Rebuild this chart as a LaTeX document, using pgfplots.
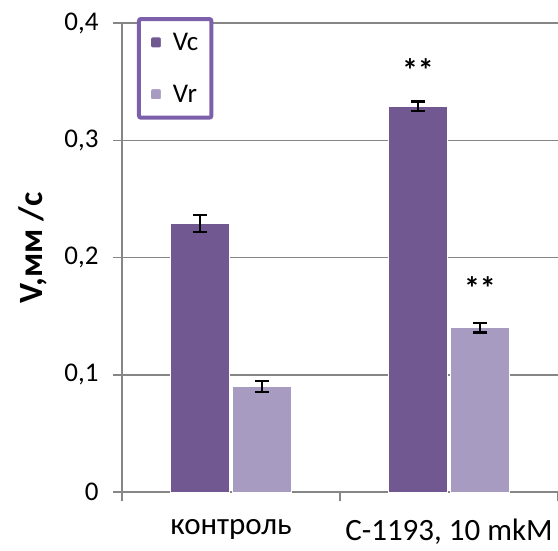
\documentclass[border=0pt]{standalone}
\usepackage{fontspec}
\setmainfont{Carlito}
\usepackage{pgfplots}
\pgfplotsset{compat=1.18}
\definecolor{vc}{RGB}{114,88,145}
\definecolor{vr}{RGB}{168,155,194}
\definecolor{legpurple}{RGB}{125,96,170}
\definecolor{gridgray}{RGB}{134,134,134}
\pgfplotstableread{
x y e
0 0.229 0.007
1 0.329 0.004
}\vcdata
\pgfplotstableread{
x y e
0 0.090 0.005
1 0.140 0.004
}\vrdata
\begin{document}
\begin{tikzpicture}
\useasboundingbox (-122pt,-58pt) rectangle (436pt,492pt);
\begin{axis}[
  at={(0pt,0pt)}, anchor=south west,
  scale only axis, width=436pt, height=469pt,
  xmin=-0.5, xmax=1.5, ymin=0, ymax=0.4,
  enlargelimits=false,
  ybar=3pt, bar width=59pt,
  axis x line*=bottom, axis y line*=left,
  axis line style={gridgray, line width=1.5pt, -},
  xtick={0,1}, xticklabels={контроль,{С-1193, 10 mkM}},
  minor xtick={-0.5,0.5,1.5},
  ytick={0,0.1,0.2,0.3,0.4},
  yticklabels={0,{0,1},{0,2},{0,3},{0,4}},
  tick align=outside,
  major tick length=9pt, minor tick length=9pt,
  major x tick style={draw=none},
  minor x tick style={gridgray, line width=1.5pt},
  y tick style={gridgray, line width=1.5pt},
  ymajorgrids, grid style={gridgray, line width=1.5pt},
  yticklabel style={font=\fontsize{27}{32}\selectfont, xshift=-11pt},
  xticklabel style={font=\fontsize{31}{37}\selectfont, inner sep=1pt, yshift=-17pt},
  ylabel={V,мм /с},
  ylabel style={font=\fontsize{34}{40}\selectfont\bfseries, at={(axis description cs:-0.204,0.52)}, anchor=center},
  legend style={at={(axis description cs:0.0344,1.0128)}, anchor=north west,
    draw=legpurple, line width=4pt, rounded corners=2pt,
    font=\fontsize{27}{32}\selectfont, inner xsep=11pt, inner ysep=12pt,
    row sep=29pt, legend cell align=left,
    /tikz/every odd column/.append style={column sep=9pt}},
  legend image code/.code={\fill[#1] (0pt,-5.5pt) rectangle (11pt,5.5pt);},
]
\addplot[fill=vc, draw=white, line width=1pt,
  error bars/.cd, y dir=both, y explicit,
  error bar style={black, line width=2.2pt},
  error mark options={black, rotate=90, mark size=7pt, line width=2.2pt}]
  table[x=x, y=y, y error=e] {\vcdata};
\addplot[fill=vr, draw=white, line width=1pt,
  error bars/.cd, y dir=both, y explicit,
  error bar style={black, line width=2.2pt},
  error mark options={black, rotate=90, mark size=7pt, line width=2.2pt}]
  table[x=x, y=y, y error=e] {\vrdata};
\legend{Vc, Vr}
\node[font=\fontsize{32}{38}\selectfont\bfseries, xshift=-31pt] at (axis cs:1,0.360) {**};
\node[font=\fontsize{32}{38}\selectfont\bfseries, xshift=31pt] at (axis cs:1,0.174) {**};
\end{axis}
\end{tikzpicture}
\end{document}
